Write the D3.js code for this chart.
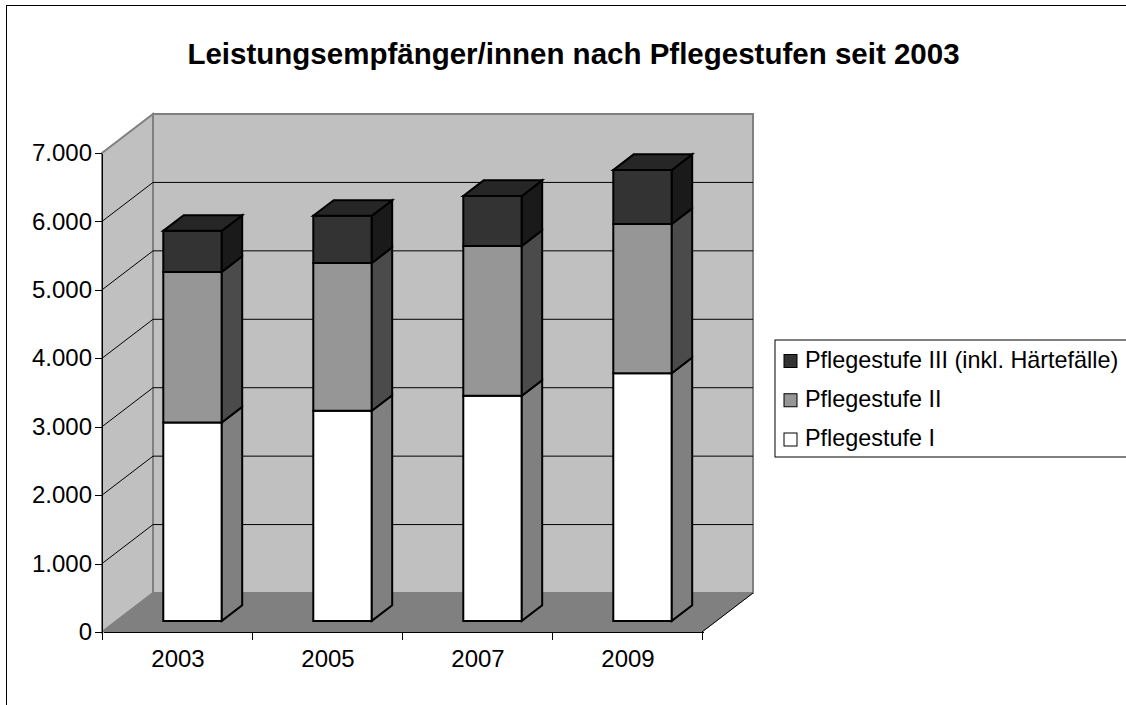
<!DOCTYPE html>
<html lang="de">
<head>
  <meta charset="UTF-8">
  <title>Leistungsempfänger/innen nach Pflegestufen seit 2003</title>
  <script src="https://cdn.jsdelivr.net/npm/d3@7/dist/d3.min.js"></script>
  <style>
    html, body { margin: 0; padding: 0; background: #fff; overflow: hidden; }
    svg { display: block; font-family: "Liberation Sans", Arial, sans-serif; }
    .axis text { font-size: 24px; fill: #000; font-family: "Liberation Sans", Arial, sans-serif; }
    .axis path, .axis line { stroke: #000; stroke-width: 1; shape-rendering: crispEdges; }
    .legend text { font-size: 23.4px; fill: #000; }
  </style>
</head>
<body>
<svg width="1126" height="705"></svg>
<script>
  const years = ['2003', '2005', '2007', '2009'];
  const stufe1 = [2900, 3070, 3290, 3620];
  const stufe2 = [2200, 2160, 2190, 2180];
  const stufe3 = [600, 690, 730, 790];
  const yTicks = [0, 1000, 2000, 3000, 4000, 5000, 6000, 7000];
  const legendLabels = ['Pflegestufe III (inkl. Härtefälle)', 'Pflegestufe II', 'Pflegestufe I'];

  const svg = d3.select('svg');

  // front plane of the box and how far the back wall is shifted
  const plotLeft = 102, plotRight = 702, plotTop = 153, plotBottom = 632;
  const depthX = 51, depthY = 39;

  const y = d3.scaleLinear().domain([0, 7000]).range([plotBottom, plotTop]);
  const x = d3.scaleBand().domain(years).range([plotLeft + 1, plotRight + 1]).paddingInner(0.61).paddingOuter(0.305);

  // bar sits in the middle part of the depth
  const barFront = 0.285, barBack = 0.685;

  function pt(px, py, d) {
    return [px + depthX * d, py - depthY * d];
  }
  function poly(points, fill, stroke, sw) {
    svg.append('polygon')
      .attr('points', points.map(p => p.join(',')).join(' '))
      .attr('fill', fill)
      .attr('stroke', stroke)
      .attr('stroke-width', sw)
      .attr('stroke-linejoin', 'miter');
  }

  // outer frame
  svg.append('rect').attr('x', 6.5).attr('y', 5.5).attr('width', 1140).attr('height', 720)
    .attr('fill', '#fff').attr('stroke', '#000');

  svg.append('text')
    .attr('x', 573.5).attr('y', 64)
    .attr('text-anchor', 'middle')
    .attr('font-size', 29.5)
    .attr('font-weight', 'bold')
    .text('Leistungsempfänger/innen nach Pflegestufen seit 2003');

  // walls and floor
  poly([pt(plotLeft, plotBottom, 1), pt(plotRight, plotBottom, 1), pt(plotRight, plotTop, 1), pt(plotLeft, plotTop, 1)], '#c0c0c0', '#808080', 2);
  poly([pt(plotLeft, plotBottom, 0), pt(plotLeft, plotBottom, 1), pt(plotLeft, plotTop, 1), pt(plotLeft, plotTop, 0)], '#c0c0c0', '#808080', 2);
  poly([pt(plotLeft, plotBottom, 0), pt(plotRight, plotBottom, 0), pt(plotRight, plotBottom, 1), pt(plotLeft, plotBottom, 1)], '#808080', '#808080', 1);

  // dark front right edge of the floor
  svg.append('line')
    .attr('x1', plotRight).attr('y1', plotBottom)
    .attr('x2', plotRight + depthX).attr('y2', plotBottom - depthY)
    .attr('stroke', '#000');

  // gridlines over side wall and back wall
  yTicks.slice(1, -1).forEach(t => {
    const a = pt(plotLeft, y(t), 0), b = pt(plotLeft, y(t), 1), c = pt(plotRight, y(t), 1);
    svg.append('polyline')
      .attr('points', [a, b, c].map(p => p.join(',')).join(' '))
      .attr('fill', 'none')
      .attr('stroke', '#000')
      .attr('stroke-width', 1);
  });

  // stacked bars
  const layers = [
    { values: stufe1, front: '#ffffff', side: '#808080', cap: '#808080' },
    { values: stufe2, front: '#969696', side: '#4b4b4b', cap: '#4b4b4b' },
    { values: stufe3, front: '#333333', side: '#1a1a1a', cap: '#262626' }
  ];
  years.forEach((year, i) => {
    const x0 = x(year), x1 = x0 + x.bandwidth();
    let base = 0;
    layers.forEach((layer, l) => {
      const end = base + layer.values[i];
      const y0 = y(base), y1 = y(end);
      poly([pt(x0, y0, barFront), pt(x1, y0, barFront), pt(x1, y1, barFront), pt(x0, y1, barFront)], layer.front, '#000', 2);
      poly([pt(x1, y0, barFront), pt(x1, y0, barBack), pt(x1, y1, barBack), pt(x1, y1, barFront)], layer.side, '#000', 2);
      if (l === layers.length - 1) {
        poly([pt(x0, y1, barFront), pt(x1, y1, barFront), pt(x1, y1, barBack), pt(x0, y1, barBack)], layer.cap, '#000', 2);
      }
      base = end;
    });
  });

  // axes
  const de = d3.formatLocale({ decimal: ',', thousands: '.', grouping: [3], currency: ['', ' €'] });
  svg.append('g')
    .attr('class', 'axis')
    .attr('transform', `translate(${plotLeft},0)`)
    .call(d3.axisLeft(y).tickValues(yTicks).tickFormat(de.format(',d')).tickSize(7).tickSizeOuter(0).tickPadding(3));

  svg.append('g')
    .attr('class', 'axis')
    .attr('transform', `translate(0,${plotBottom})`)
    .call(d3.axisBottom(x).tickSize(0).tickPadding(18));

  // category separators on the x axis
  const sep = d3.range(years.length + 1).map(i => plotLeft + i * x.step());
  svg.append('g').selectAll('line').data(sep).join('line')
    .attr('x1', d => d + 0.5).attr('x2', d => d + 0.5)
    .attr('y1', plotBottom).attr('y2', plotBottom + 8)
    .attr('stroke', '#000');

  // legend
  const legend = svg.append('g').attr('class', 'legend');
  legend.append('rect')
    .attr('x', 775).attr('y', 340).attr('width', 400).attr('height', 117)
    .attr('fill', '#fff').attr('stroke', '#000');
  const legendY = d3.scalePoint().domain(legendLabels).range([361, 439.5]);
  const legendFill = ['#333333', '#969696', '#ffffff'];
  legendLabels.forEach((label, i) => {
    legend.append('rect')
      .attr('x', 784).attr('y', legendY(label) - 6.5).attr('width', 13).attr('height', 13)
      .attr('fill', legendFill[i]).attr('stroke', '#000');
    legend.append('text')
      .attr('x', 805).attr('y', legendY(label) + 6.5)
      .text(label);
  });
</script>
</body>
</html>
